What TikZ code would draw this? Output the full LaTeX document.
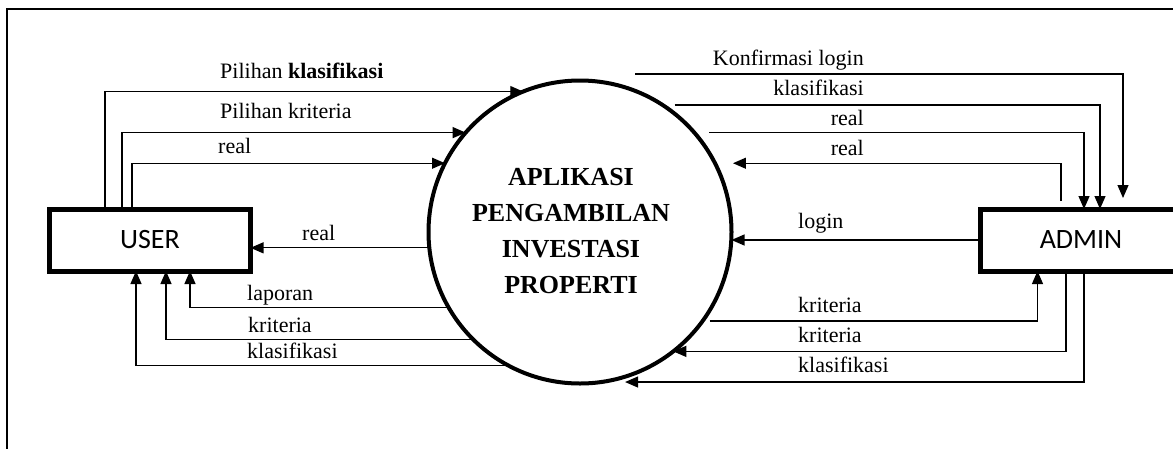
\documentclass[tikz,border=0pt]{standalone}
\usepackage{fontspec}
\setmainfont{Liberation Serif}
\newfontfamily\entitasfont{Carlito}
\usetikzlibrary{arrows.meta}

\tikzset{
    entitas/.style={draw, line width=5pt, minimum width=201pt, minimum height=62pt, inner sep=0pt, outer sep=0pt, font=\entitasfont\fontsize{28}{30}\selectfont},
    proses/.style={circle, draw, line width=4pt, minimum size=303pt, inner sep=0pt, outer sep=0pt},
    judul/.style={align=center, inner sep=0pt, font=\bfseries\fontsize{26}{36}\selectfont},
    alir/.style={line width=1.2pt, -{Triangle[length=13pt,width=11pt]}},
    ket/.style={inner sep=0pt, font=\fontsize{22}{24}\selectfont}
}

\begin{document}
\begin{tikzpicture}[x=1pt, y=-1pt]
        \useasboundingbox (0,0) rectangle (1173,448);
        \clip (0,0) rectangle (1173,448);
        \draw[line width=2pt] (7,9) rectangle (1190,470);

        \node[entitas] (user) at (150,240) {USER};
        \node[entitas] (admin) at (1081,240) {ADMIN};
        \node[proses] (app) at (580,232) {};
        \node[judul] (nama) at ([xshift=-9pt,yshift=1pt]app.center) {APLIKASI\\PENGAMBILAN\\INVESTASI\\PROPERTI};

        % user ke proses
        \draw[alir] ([xshift=-45pt]user.north) |- (app.112);
        \draw[alir] ([xshift=-28pt]user.north) |- (app.139);
        \draw[alir] ([xshift=-18pt]user.north) |- (app.153);
        \node[ket, anchor=base west] (k1) at (220,78) {Pilihan \textbf{klasifikasi}};
        \node[ket, anchor=base west] (k2) at (220,118) {Pilihan kriteria};
        \node[ket, anchor=base west] (k3) at (218,153) {real};

        % proses ke user
        \draw[alir] (app.186) -- (app.186 -| user.east);
        \draw[alir] (app.210) -| ([xshift=40pt]user.south);
        \draw[alir] (app.225) -| ([xshift=16pt]user.south);
        \draw[alir] (app.242) -| ([xshift=-14pt]user.south);
        \node[ket, anchor=base west] (k4) at (302,240) {real};
        \node[ket, anchor=base west] (k5) at (247,300) {laporan};
        \node[ket, anchor=base west] (k6) at (248,332) {kriteria};
        \node[ket, anchor=base west] (k7) at (247,358) {klasifikasi};

        % proses ke admin
        \draw[alir] ([xshift=55pt,yshift=6.5pt]app.north) -| ([xshift=42pt,yshift=11pt]admin.north);
        \draw[alir, shorten <=12pt] (app.57) -| ([xshift=19pt]admin.north);
        \draw[alir, shorten <=15pt] (app.41) -| ([xshift=3pt]admin.north);
        \draw[alir, shorten <=7pt] (app.324) -| ([xshift=-43.5pt]admin.south);
        \node[ket, anchor=base east] (k8) at (864,65) {Konfirmasi login};
        \node[ket, anchor=base east] (k9) at (864,95) {klasifikasi};
        \node[ket, anchor=base east] (k10) at (864,125) {real};
        \node[ket, anchor=base west] (k11) at (798,312) {kriteria};

        % admin ke proses
        \draw[alir, shorten >=18pt] ([xshift=-20pt,yshift=8pt]admin.north) |- (app.27);
        \draw[alir] (admin.west) -- (admin.west -| app.east);
        \draw[alir] ([xshift=-15pt]admin.south) |- (app.308);
        \draw[alir, shorten >=24pt] ([xshift=3pt]admin.south) |- (app.278);
        \node[ket, anchor=base east] (k12) at (864,155) {real};
        \node[ket, anchor=base west] (k13) at (798,228) {login};
        \node[ket, anchor=base west] (k14) at (798,342) {kriteria};
        \node[ket, anchor=base west] (k15) at (798,372) {klasifikasi};
\end{tikzpicture}
\end{document}
